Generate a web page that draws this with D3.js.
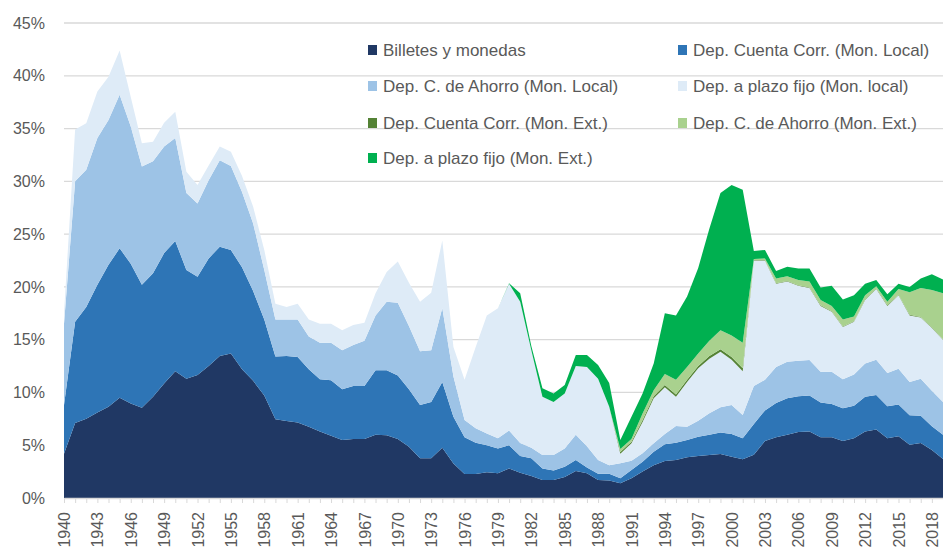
<!DOCTYPE html>
<html>
<head>
<meta charset="utf-8">
<script src="https://cdn.jsdelivr.net/npm/d3@7"></script>
<style>
  body { margin: 0; background: #fff; }
  svg { display: block; font-family: "Liberation Sans", Arial, sans-serif; }
</style>
</head>
<body>
<svg id="chart" width="943" height="549"></svg>
<script>
// años (categorías)
var years = d3.range(1940, 2020);
var tickYears = d3.range(1940, 2020, 3);
var yTicks = [0, 5, 10, 15, 20, 25, 30, 35, 40, 45];

// % del PIB
var billetes = [4.2,7.1,7.5,8.1,8.65,9.5,8.95,8.55,9.6,10.85,
  12.0,11.3,11.65,12.5,13.45,13.7,12.2,11.1,9.7,7.45,
  7.3,7.15,6.75,6.3,5.9,5.5,5.6,5.6,6.0,5.95,
  5.6,4.86,3.76,3.76,4.77,3.28,2.27,2.27,2.43,2.34,
  2.8,2.4,2.08,1.7,1.7,2.0,2.55,2.35,1.7,1.65,
  1.4,1.86,2.5,3.1,3.5,3.6,3.85,3.98,4.07,4.17,
  3.9,3.66,4.1,5.4,5.75,6.0,6.25,6.3,5.75,5.75,
  5.4,5.65,6.3,6.5,5.65,5.85,5.05,5.2,4.55,3.7];

var ccLocal = [4.6,9.6,10.6,12.1,13.45,14.15,13.25,11.65,11.7,12.35,
  12.35,10.3,9.3,10.2,10.35,9.8,9.65,8.5,7.2,5.95,
  6.15,6.2,5.45,4.95,5.25,4.8,5.0,5.0,6.1,6.15,
  6.0,5.44,5.04,5.34,6.23,4.42,3.48,2.97,2.57,2.36,
  2.2,1.58,1.68,1.1,0.9,0.97,1.05,0.55,0.6,0.65,
  0.46,0.79,0.94,1.29,1.6,1.64,1.65,1.82,1.93,2.03,
  2.16,1.99,2.9,2.9,3.25,3.45,3.4,3.4,3.3,3.15,
  3.1,3.1,3.3,3.25,3.05,3.0,2.8,2.6,2.25,2.3];

var ahorroLocal = [7.7,13.3,13.0,13.9,13.7,14.55,13.0,11.2,10.6,10.1,
  9.75,7.3,6.95,7.4,8.2,7.95,7.15,6.4,4.7,3.5,
  3.45,3.55,3.1,3.45,3.55,3.7,3.9,4.3,5.2,6.5,
  6.9,6.0,5.1,4.9,7.0,3.8,1.65,1.36,1.1,0.95,
  1.4,1.22,1.01,1.27,1.47,1.73,2.4,2.0,1.3,0.8,
  1.44,0.88,0.79,0.79,0.96,1.58,1.26,1.53,2.02,2.39,
  2.74,2.21,3.6,2.9,3.4,3.45,3.35,3.37,2.9,3.05,
  2.75,2.95,3.15,3.35,3.15,3.4,3.15,3.5,3.35,3.1];

var plazoLocal = [1.0,4.9,4.4,4.4,4.1,4.2,2.8,2.2,1.85,2.25,
  2.5,2.0,1.75,1.4,1.3,1.35,1.5,1.6,1.9,1.5,
  1.2,1.5,1.6,1.8,1.8,1.9,1.9,1.7,2.1,2.8,
  3.9,4.1,4.7,5.45,6.4,2.8,3.8,7.7,11.2,12.32,
  13.9,13.4,9.23,5.53,5.03,5.2,6.5,7.5,7.7,5.55,
  0.9,1.65,2.97,4.26,4.44,2.78,4.24,4.97,5.18,5.27,
  4.3,4.14,11.9,11.3,7.9,7.6,7.1,6.83,6.25,5.7,
  4.95,5.0,6.0,6.7,6.35,6.95,6.3,5.8,5.95,5.9];

// moneda extranjera: desde 1980 (antes no hay)
var extStart = 1980;
var ccExt = [0,0,0,0,0,0,0,0,0,0,
  0.15,0.15,0.2,0.2,0.2,0.2,0.2,0.2,0.25,0.24,
  0.25,0.3,0.05,0.05,0.05,0.05,0.05,0.05,0.05,0.05,
  0.05,0.05,0.05,0.05,0.05,0.05,0.05,0.05,0.05,0.05];

var ahorroExt = [0,0,0,0,0,0,0,0,0,0,
  0.3,0.27,0.6,0.56,1.05,1.4,1.2,1.2,1.45,1.8,
  2.05,2.4,0.1,0.15,0.45,0.45,0.5,0.55,0.5,0.5,
  0.65,0.45,0.4,0.2,0.35,0.55,2.15,2.75,3.55,4.35];

var plazoExt = [0.05,0.8,0.4,0.8,0.8,0.8,1.05,1.15,1.3,2.25,
  0.85,2.1,1.9,2.55,5.75,6.1,6.7,8.1,10.6,13.0,
  14.25,14.5,0.75,0.8,0.7,0.9,1.1,1.25,1.2,1.9,
  1.9,2.0,1.1,0.6,0.7,0.5,0.5,0.9,1.5,1.3];

var names = ["Billetes y monedas", "Dep. Cuenta Corr. (Mon. Local)",
  "Dep. C. de Ahorro (Mon. Local)", "Dep. a plazo fijo (Mon. local)",
  "Dep. Cuenta Corr. (Mon. Ext.)", "Dep. C. de Ahorro (Mon. Ext.)",
  "Dep. a plazo fijo (Mon. Ext.)"];
var colors = ["#203864", "#2e75b6", "#9dc3e6", "#deebf7", "#548235", "#a9d18e", "#00b050"];

var localSeries = [billetes, ccLocal, ahorroLocal, plazoLocal];
var extSeries = [ccExt, ahorroExt, plazoExt];

var data = years.map(function(yr, i) {
  var row = { year: yr };
  localSeries.forEach(function(s, k) { row[names[k]] = s[i]; });
  extSeries.forEach(function(s, k) {
    var j = yr - extStart;
    row[names[4 + k]] = j >= 0 ? s[j] : 0;
  });
  return row;
});

var svg = d3.select("#chart"),
    margin = {top: 23, right: 0, bottom: 51, left: 64},
    width = +svg.attr("width") - margin.left - margin.right,
    height = +svg.attr("height") - margin.top - margin.bottom;

var g = svg.append("g").attr("transform", "translate(" + margin.left + "," + margin.top + ")");

var x = d3.scalePoint().domain(years).range([0, width]);
var y = d3.scaleLinear().domain([0, 45]).range([height, 0]);

// rejilla
g.append("g")
    .selectAll("line")
    .data(yTicks.slice(1))
  .enter().append("line")
    .attr("x1", 0).attr("x2", width)
    .attr("y1", function(d) { return y(d); })
    .attr("y2", function(d) { return y(d); })
    .attr("stroke", "#d9d9d9")
    .attr("stroke-width", 1.3);

var stack = d3.stack().keys(names);
var layers = stack(data);

var area = d3.area()
    .x(function(d) { return x(d.data.year); })
    .y0(function(d) { return y(d[0]); })
    .y1(function(d) { return y(d[1]); });

g.selectAll(".layer")
    .data(layers)
  .enter().append("path")
    .attr("class", "layer")
    .attr("fill", function(d, i) { return colors[i]; })
    .attr("d", area);

// eje y
g.append("g")
    .call(d3.axisLeft(y).tickValues(yTicks).tickSize(0).tickPadding(19)
      .tickFormat(function(d) { return d + "%"; }))
    .call(function(a) {
      a.select(".domain").remove();
      a.selectAll("text").attr("fill", "#595959").style("font-size", "16px")
        .style("font-family", "Liberation Sans, Arial, sans-serif");
    });

// eje x
var xAxis = g.append("g")
    .attr("transform", "translate(0," + height + ")")
    .call(d3.axisBottom(x).tickSizeInner(5).tickSizeOuter(0)
      .tickFormat(function(d) { return tickYears.indexOf(d) >= 0 ? d : ""; }));
xAxis.select(".domain").attr("stroke", "#d9d9d9").attr("stroke-width", 1.3);
xAxis.selectAll(".tick line").attr("stroke", "#d9d9d9");
xAxis.selectAll("text")
    .attr("fill", "#595959")
    .style("font-size", "16px")
    .style("font-family", "Liberation Sans, Arial, sans-serif")
    .attr("text-anchor", "end")
    .attr("transform", "rotate(-90)")
    .attr("x", -14)
    .attr("y", 0)
    .attr("dy", "0.35em");

// leyenda
var legendPos = [[368, 50], [678, 50], [368, 86], [678, 86], [368, 123], [678, 123], [368, 158]];
var legend = svg.append("g").selectAll("g")
    .data(names)
  .enter().append("g")
    .attr("transform", function(d, i) { return "translate(" + legendPos[i][0] + "," + legendPos[i][1] + ")"; });
legend.append("rect")
    .attr("x", 0).attr("y", -5)
    .attr("width", 9).attr("height", 10)
    .attr("fill", function(d, i) { return colors[i]; });
legend.append("text")
    .attr("x", 15).attr("dy", "0.35em")
    .attr("fill", "#595959")
    .style("font-size", "17px")
    .text(function(d) { return d; });
</script>
</body>
</html>
